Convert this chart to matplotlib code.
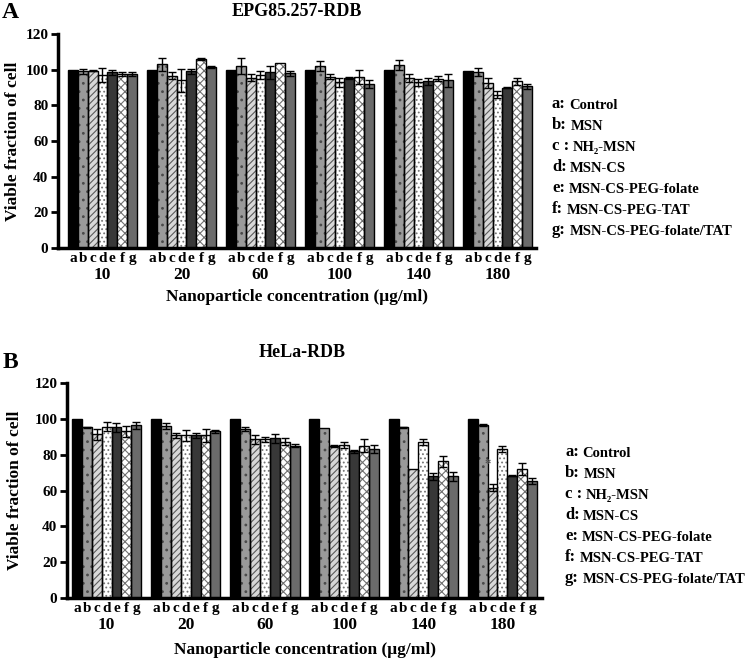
import numpy as np
import matplotlib
matplotlib.use("Agg")
import matplotlib.pyplot as plt
from matplotlib.transforms import blended_transform_factory

plt.rcParams['font.family'] = ['Liberation Serif', 'DejaVu Serif']
plt.rcParams['font.weight'] = 'bold'
plt.rcParams['hatch.linewidth'] = 0.8

concentrations = ['10', '20', '60', '100', '140', '180']
letters = ['a', 'b', 'c', 'd', 'e', 'f', 'g']
legend_names = ['Control', 'MSN', 'NH\u2082-MSN', 'MSN-CS', 'MSN-CS-PEG-folate',
                'MSN-CS-PEG-TAT', 'MSN-CS-PEG-folate/TAT']

# Panel A: EPG85.257-RDB (rows = series a..g, columns = concentrations)
a_vals = [
    [100, 100, 100, 100, 100, 99.5],
    [99, 103, 102, 102, 102.5, 98.7],
    [99.5, 96.5, 95.5, 96, 95.3, 92.5],
    [97, 94, 97, 93, 93, 86],
    [98.5, 99, 98.5, 95.5, 93.5, 90],
    [97.5, 106, 103.5, 96, 95, 93.5],
    [97.5, 101.5, 98, 92, 94, 90.7],
]
a_errs = [
    [0, 0, 0, 0, 0, 0],
    [1.5, 3.5, 4.5, 3, 2.9, 2.5],
    [0.5, 2, 2, 1.5, 2, 3],
    [4, 6.5, 2, 2.5, 2, 2],
    [1.5, 1.5, 3.5, 0.5, 2, 0.5],
    [1, 0.5, 0, 4, 1.5, 2],
    [1, 0.5, 1.5, 2, 3.5, 1.5],
]

# Panel B: HeLa-RDB
b_vals = [
    [100, 100, 100, 100, 100, 100],
    [95.2, 96, 94.4, 94.8, 95.2, 96.6],
    [91.4, 90.7, 88.5, 84.7, 72.1, 61.6],
    [95.5, 90.7, 88.5, 85.5, 87, 83.2],
    [95.2, 90.7, 89.2, 81.8, 68, 68.3],
    [93, 90.7, 87.3, 85, 76.2, 72.1],
    [96.3, 93, 85, 83.2, 68, 65.4],
]
b_errs = [
    [0, 0, 0, 0, 0, 0],
    [0.5, 1.5, 1, 0, 0.5, 0.5],
    [3, 1.5, 2.5, 0.5, 0, 2],
    [2.5, 3, 1.5, 1.5, 1.5, 1.5],
    [2.5, 1.5, 2.5, 1, 2, 0.3],
    [3, 3.5, 2, 3.5, 3, 3.5],
    [2, 1, 0.8, 2, 2.5, 1.5],
]

styles = [
    dict(fc='black', hatch=None, hc=None),
    dict(fc='#9a9a9a', hatch='..', hc='#4a4a4a'),
    dict(fc='#d8d8d8', hatch='/////', hc='#5a5a5a'),
    dict(fc='white', hatch='....', hc='#777777'),
    dict(fc='#383838', hatch=None, hc=None),
    dict(fc='white', hatch='xxxx', hc='#707070'),
    dict(fc='#6b6b6b', hatch=None, hc=None),
]

W, H = 749, 662
fig = plt.figure(figsize=(W / 100, H / 100), dpi=100)


def fx(px):
    return px / W


def fy(py):
    return 1 - py / H


def draw_panel(rect, vals, errs, xoff, xlim_right, title, title_xy, letter, letter_xy,
               ylabel_x, xlabel_y, legend_x, legend_y0, legend_dy, star=None):
    ax = fig.add_axes(rect)
    n_groups = len(concentrations)
    centers_all = []
    for s in range(len(letters)):
        xs = np.arange(n_groups) * 8 + s + xoff + 0.5
        st = styles[s]
        if st['hatch']:
            ax.bar(xs, vals[s], width=1.0, color=st['fc'], edgecolor=st['hc'],
                   hatch=st['hatch'], linewidth=0, zorder=2)
            ax.bar(xs, vals[s], width=1.0, fill=False, edgecolor='black',
                   linewidth=1.0, zorder=3)
        else:
            ax.bar(xs, vals[s], width=1.0, color=st['fc'], edgecolor='black',
                   linewidth=1.0, zorder=2)
        e = np.array(errs[s])
        m = e > 0
        ax.errorbar(xs[m], np.array(vals[s])[m], yerr=e[m], fmt='none', ecolor='black',
                    elinewidth=1.0, capsize=3, capthick=1.0, zorder=4)
        centers_all.extend(list(xs))
    ax.set_ylim(0, 120)
    ax.set_xlim(0, xlim_right)
    ax.set_yticks([0, 20, 40, 60, 80, 100, 120])
    ax.tick_params(axis='y', direction='out', length=5, width=2, labelsize=11, pad=2)
    for lab in ax.get_yticklabels():
        lab.set_fontweight('bold')
    centers_all = sorted(centers_all)
    ax.set_xticks(centers_all)
    ax.set_xticklabels(letters * n_groups, fontsize=11, fontweight='bold')
    ax.tick_params(axis='x', length=0, pad=3)
    for sp in ['top', 'right']:
        ax.spines[sp].set_visible(False)
    for sp in ['left', 'bottom']:
        ax.spines[sp].set_linewidth(2.5)
    trans = blended_transform_factory(ax.transData, ax.transAxes)
    for g, c in enumerate(concentrations):
        gx = g * 8 + xoff + 3.5
        ax.text(gx, -0.125, c, transform=trans, ha='center', va='center',
                fontsize=12.5, fontweight='bold')
    ax.set_xlabel('Nanoparticle concentration (\u03bcg/ml)', fontsize=12.5,
                  fontweight='bold')
    ax.xaxis.set_label_coords(0.5, xlabel_y, transform=ax.transAxes)
    fig.text(fx(ylabel_x), rect[1] + rect[3] / 2, 'Viable fraction of cell', rotation=90,
             ha='center', va='center', fontsize=12.5, fontweight='bold')
    fig.text(fx(title_xy[0]), fy(title_xy[1]), title, ha='center', va='center',
             fontsize=13, fontweight='bold')
    fig.text(fx(letter_xy[0]), fy(letter_xy[1]), letter, ha='left', va='center',
             fontsize=17, fontweight='bold')
    for i in range(len(letters)):
        y = fy(legend_y0 + i * legend_dy)
        sep = ' :' if letters[i] == 'c' else ':'
        lt = fig.text(fx(legend_x), y, letters[i] + sep, ha='left', va='baseline',
                      fontsize=12, fontweight='bold')
        fig.texts.append(None) if False else None
        ax.annotate(legend_names[i], xy=(1, 0), xycoords=lt, xytext=(2.5, 0),
                    textcoords='offset points', ha='left', va='bottom',
                    fontsize=10.5, fontweight='bold', annotation_clip=False)
    if star is not None:
        g, s, v = star
        ax.text(g * 8 + xoff + s + 0.5, v, '*', ha='center', va='center', fontsize=9,
                color='#555555')
    return ax


# Panel A
draw_panel([fx(58), fy(248), fx(536 - 58), (248 - 34) / H], a_vals, a_errs,
           xoff=1.0, xlim_right=48.4, title='EPG85.257-RDB', title_xy=(297, 11),
           letter='A', letter_xy=(2, 13), ylabel_x=13, xlabel_y=-0.19,
           legend_x=552, legend_y0=108, legend_dy=21)

# Panel B
draw_panel([fx(67), fy(598), fx(542 - 67), (598 - 383) / H], b_vals, b_errs,
           xoff=0.5, xlim_right=48.0, title='HeLa-RDB', title_xy=(302, 353),
           letter='B', letter_xy=(3, 363), ylabel_x=15, xlabel_y=-0.205,
           legend_x=565, legend_y0=456, legend_dy=21,
           star=(5, 1.5, 75))

fig.savefig('out.png', dpi=100)
